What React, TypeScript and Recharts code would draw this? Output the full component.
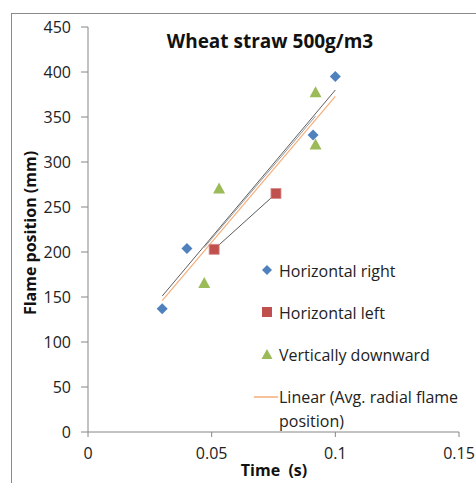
import React from 'react';
import { ScatterChart, Scatter, XAxis, YAxis, Legend } from 'recharts';

// raw series
const horizontalRight = [
  { x: 0.03, y: 137 },
  { x: 0.04, y: 204 },
  { x: 0.091, y: 330 },
  { x: 0.1, y: 395 },
];
const horizontalLeft = [
  { x: 0.051, y: 203 },
  { x: 0.076, y: 265 },
];
const verticallyDownward = [
  { x: 0.047, y: 165 },
  { x: 0.053, y: 270 },
  { x: 0.092, y: 377 },
  { x: 0.092, y: 319 },
];

// trendline endpoints (Excel linear trendlines)
const rightTrend = [
  { x: 0.03, y: 151 },
  { x: 0.1, y: 380 },
];
const leftTrend = [
  { x: 0.051, y: 203 },
  { x: 0.076, y: 265 },
];
const downTrend = [
  { x: 0.047, y: 205 },
  { x: 0.092, y: 351 },
];
const avgTrend = [
  { x: 0.03, y: 146 },
  { x: 0.1, y: 373 },
];

const xTicks = [0, 0.05, 0.1, 0.15];
const yTicks = [0, 50, 100, 150, 200, 250, 300, 350, 400, 450];

const BLUE = '#4F81BD';
const RED = '#C0504D';
const GREEN = '#9BBB59';
const ORANGE = '#F5AE7A';
const AXIS = '#868686';
const FONT = '"Open Sans", "Liberation Sans", sans-serif';

interface MarkerProps {
  cx?: number;
  cy?: number;
}

function Diamond({ cx = 0, cy = 0 }: MarkerProps) {
  const r = 5.5;
  return <path d={`M${cx},${cy - r}L${cx + r},${cy}L${cx},${cy + r}L${cx - r},${cy}Z`} fill={BLUE} />;
}

function Square({ cx = 0, cy = 0 }: MarkerProps) {
  const r = 5;
  return <rect x={cx - r} y={cy - r} width={2 * r} height={2 * r} fill={RED} stroke="#D78B89" strokeWidth={0.8} />;
}

function Triangle({ cx = 0, cy = 0 }: MarkerProps) {
  return <path d={`M${cx},${cy - 6.5}L${cx + 6},${cy + 4.5}L${cx - 6},${cy + 4.5}Z`} fill={GREEN} />;
}

const NoDot = () => <g />;

function LegendBox() {
  const row: React.CSSProperties = { display: 'flex', alignItems: 'flex-start', height: 42 };
  const icon: React.CSSProperties = { width: 24, display: 'flex', justifyContent: 'center', marginTop: 3 };
  const txt: React.CSSProperties = { fontSize: 16, lineHeight: '24px', color: '#222' };
  return (
    <div style={{ fontFamily: FONT }}>
      <div style={row}>
        <div style={icon}><svg width={12} height={16}><path d="M6,3L11,8L6,13L1,8Z" fill={BLUE} /></svg></div>
        <span style={txt}>Horizontal right</span>
      </div>
      <div style={row}>
        <div style={icon}><svg width={12} height={16}><rect x={1} y={3} width={10} height={10} fill={RED} /></svg></div>
        <span style={txt}>Horizontal left</span>
      </div>
      <div style={row}>
        <div style={icon}><svg width={12} height={16}><path d="M6,3L11.5,13L0.5,13Z" fill={GREEN} /></svg></div>
        <span style={txt}>Vertically downward</span>
      </div>
      <div style={row}>
        <div style={{ ...icon, width: 26, marginLeft: -2 }}><svg width={24} height={16}><line x1={0} y1={9} x2={24} y2={9} stroke={ORANGE} strokeWidth={1.5} /></svg></div>
        <span style={{ ...txt, width: 186 }}>Linear (Avg. radial flame position)</span>
      </div>
    </div>
  );
}

export default function App() {
  const tick = { fill: '#222', fontSize: 16, fontFamily: FONT };
  return (
    <div style={{ position: 'absolute', left: 0, top: 0, width: 476, height: 483, background: '#fff', overflow: 'hidden' }}>
      <div style={{ position: 'absolute', left: 11, top: 13, width: 480, height: 480, borderLeft: '1.5px solid #8a8a8a', borderTop: '1.5px solid #8a8a8a' }} />
      <div style={{ position: 'absolute', left: 0, width: 540, top: 28, textAlign: 'center', fontFamily: FONT, fontWeight: 700, fontSize: 19, color: '#111' }}>
        Wheat straw 500g/m3
      </div>
      <div style={{ position: 'absolute', left: 30, top: 233, transform: 'translate(-50%, -50%) rotate(-90deg)', whiteSpace: 'nowrap', fontFamily: FONT, fontWeight: 700, fontSize: 16, color: '#111' }}>
        Flame position (mm)
      </div>
      <div style={{ position: 'absolute', left: 274, top: 460, transform: 'translateX(-50%)', whiteSpace: 'pre', fontFamily: FONT, fontWeight: 700, fontSize: 16, lineHeight: '20px', color: '#111' }}>
        Time  (s)
      </div>
      <ScatterChart width={476} height={483} margin={{ top: 27, right: 17, bottom: 0, left: 28 }} style={{ position: 'absolute', left: 0, top: 0 }}>
        <XAxis
          type="number"
          dataKey="x"
          domain={[0, 0.15]}
          ticks={xTicks}
          height={51}
          tick={tick}
          tickSize={5}
          tickMargin={11}
          axisLine={{ stroke: AXIS }}
          tickLine={{ stroke: AXIS }}
          allowDataOverflow
        />
        <YAxis
          type="number"
          dataKey="y"
          domain={[0, 450]}
          ticks={yTicks}
          width={60}
          tick={tick}
          tickSize={7}
          tickMargin={10}
          axisLine={{ stroke: AXIS }}
          tickLine={{ stroke: AXIS }}
          allowDataOverflow
        />
        <Legend
          layout="vertical"
          align="center"
          verticalAlign="middle"
          content={<LegendBox />}
          wrapperStyle={{ position: 'absolute', left: 255, top: 259, width: 215 }}
        />
        <Scatter data={rightTrend} line={{ stroke: '#5f5f5f', strokeWidth: 1 }} shape={NoDot} legendType="none" isAnimationActive={false} />
        <Scatter data={downTrend} line={{ stroke: '#9a9a9a', strokeWidth: 1 }} shape={NoDot} legendType="none" isAnimationActive={false} />
        <Scatter data={leftTrend} line={{ stroke: '#5a5a5a', strokeWidth: 1 }} shape={NoDot} legendType="none" isAnimationActive={false} />
        <Scatter data={avgTrend} line={{ stroke: ORANGE, strokeWidth: 1.2 }} shape={NoDot} name="Linear (Avg. radial flame position)" isAnimationActive={false} />
        <Scatter data={horizontalRight} shape={Diamond} name="Horizontal right" isAnimationActive={false} />
        <Scatter data={horizontalLeft} shape={Square} name="Horizontal left" isAnimationActive={false} />
        <Scatter data={verticallyDownward} shape={Triangle} name="Vertically downward" isAnimationActive={false} />
      </ScatterChart>
    </div>
  );
}
